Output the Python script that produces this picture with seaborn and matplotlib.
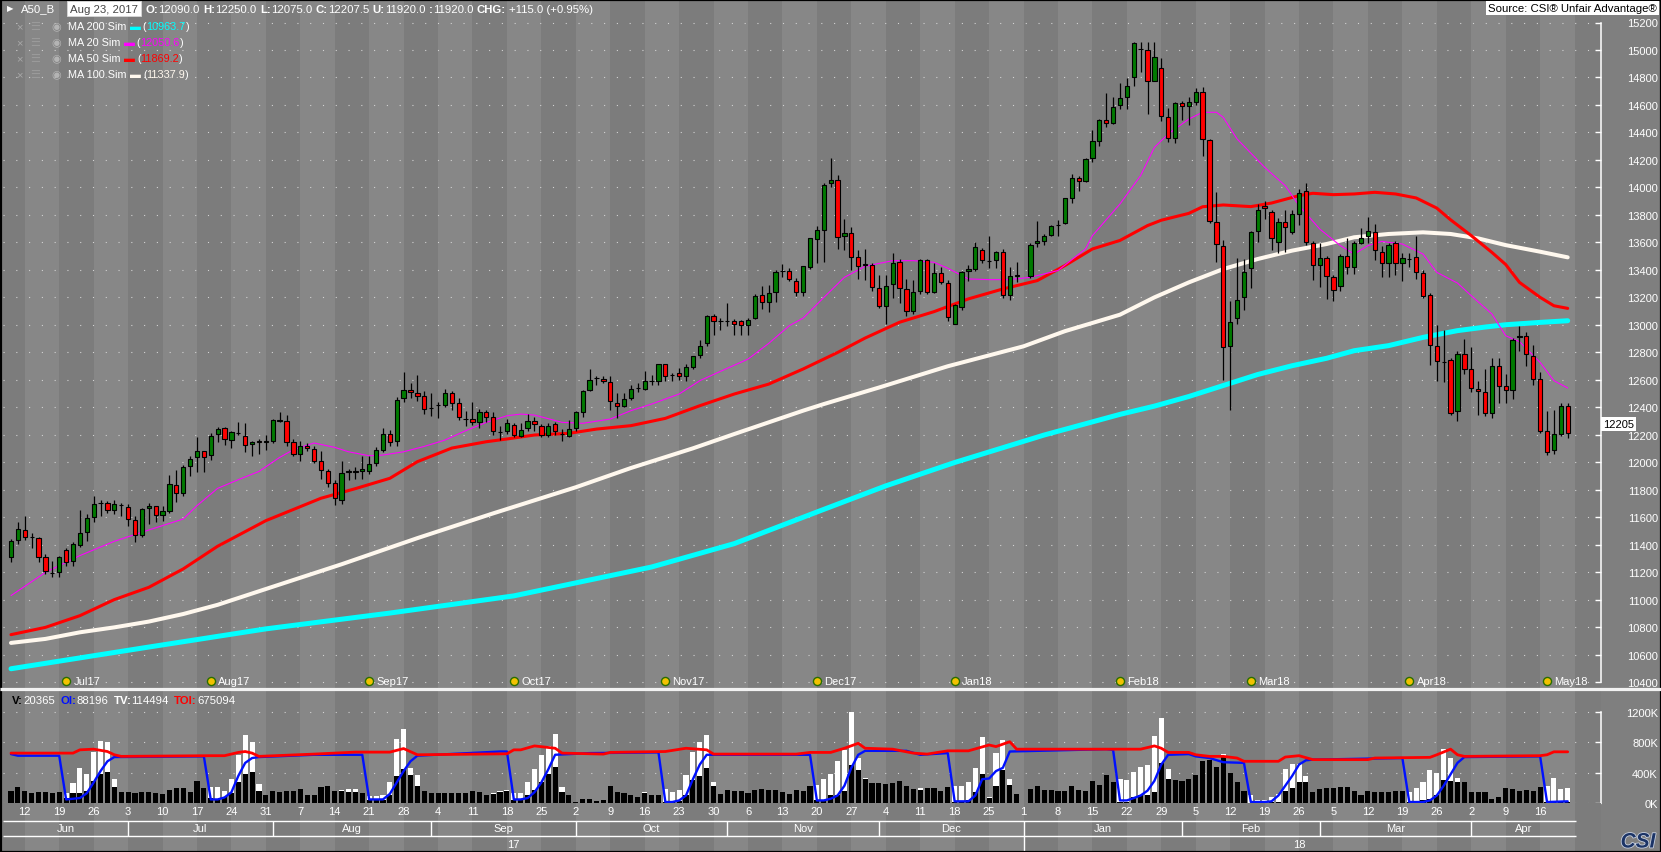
import numpy as np
import pandas as pd
import matplotlib
matplotlib.use("Agg")
import matplotlib.pyplot as plt
import matplotlib.patheffects as pe
from matplotlib.patches import Rectangle
import seaborn as sns

# ---- values; slot = weekday index (0 = Thu 8 Jun 2017) ----
opens = [11315, 11439, 11507, 11458, 11449, 11311, 11193, 11202, 11364, 11281,
         11403, 11492, 11601, 11709, 11706, 11657, 11692, 11674, 11584, 11475,
         11667, 11681, 11618, 11650, 11837, 11776, 11972, 12038, 12081, 12057,
         12205, 12249, 12164, 12212, 12195, 12132, 12154, 12152, 12158, 12304,
         12304, 12146, 12059, 12122, 12095, 12011, 11935, 11850, 11730, 11930,
         11936, 11936, 11936, 11994, 12093, 12207, 12154, 12466, 12527, 12505,
         12481, 12394, 12418, 12420, 12505, 12432, 12316, 12314, 12292, 12365,
         12328, 12222, 12231, 12273, 12190, 12248, 12299, 12263, 12202, 12280,
         12205, 12195, 12248, 12369, 12529, 12612, 12604, 12583, 12432, 12413,
         12471, 12543, 12534, 12590, 12595, 12714, 12635, 12648, 12631, 12697,
         12784, 12867, 13063, 13026, 13027, 13026, 13026, 13002, 13048, 13218,
         13165, 13237, 13393, 13395, 13322, 13237, 13419, 13625, 13694, 14031,
         14055, 13645, 13667, 13493, 13441, 13434, 13267, 13136, 13296, 13456,
         13260, 13105, 13250, 13473, 13238, 13376, 13304, 13010, 13129, 13391,
         13408, 13546, 13464, 13473, 13529, 13221, 13360, np.nan, 13359, 13597,
         13614, 13657, 13727, 13740, 13927, 14067, 14050, 14212, 14336, 14491,
         14467, 14600, 14656, 14802, 15007, 15000, 14777, 14870, 14510, 14357,
         14612, 14590, 14619, 14697, 14348, 13747, 13577, 12850, 13049, 13201,
         13412, 13686, 13868, 13824, 13606, 13747, 13679, 13807, 13972, 13594,
         13436, 13485, 13347, 13281, 13499, 13419, 13596, 13645, 13679, 13533,
         13448, 13594, 13448, 13480, 13492, 13376, 13221, 12845, 12730, 12743,
         12372, 12789, 12677, 12534, 12510, 12357, 12699, 12554, 12525, 12916,
         12917, 12772, 12605, 12226, 12091, 12210, 12408]
highs = [11444, 11570, 11609, 11487, 11456, 11335, 11286, 11323, 11376, 11420,
         11655, 11626, 11754, 11730, 11723, 11730, 11706, 11698, 11609, 11669,
         11706, 11686, 11681, 11909, 11946, 11982, 12050, 12183, 12086, 12212,
         12256, 12256, 12232, 12292, 12285, 12159, 12171, 12200, 12316, 12369,
         12345, 12171, 12158, 12142, 12117, 12083, 11953, 11870, 12013, 11953,
         11969, 12049, 12049, 12110, 12248, 12238, 12474, 12655, 12578, 12636,
         12522, 12505, 12442, 12534, 12522, 12466, 12377, 12442, 12389, 12384,
         12365, 12268, 12316, 12285, 12290, 12350, 12330, 12280, 12290, 12297,
         12241, 12311, 12374, 12524, 12679, 12631, 12631, 12626, 12505, 12505,
         12563, 12576, 12665, 12636, 12716, 12716, 12653, 12685, 12714, 12775,
         12891, 13070, 13080, 13048, 13157, 13041, 13036, 13048, 13223, 13283,
         13289, 13400, 13446, 13414, 13339, 13431, 13633, 13717, 14036, 14215,
         14090, 13771, 13713, 13545, 13553, 13450, 13360, 13360, 13524, 13480,
         13335, 13325, 13480, 13480, 13451, 13419, 13327, 13153, 13393, 13435,
         13601, 13558, 13645, 13541, 13553, 13422, 13458, np.nan, 13594, 13757,
         13660, 13725, 13766, 13925, 14095, 14085, 14215, 14421, 14496, 14690,
         14656, 14762, 14796, 15058, 15058, 15058, 15060, 14940, 14580, 14620,
         14630, 14660, 14722, 14731, 14350, 13965, 13620, 13171, 13485, 13480,
         13683, 13882, 13899, 13833, 13780, 13838, 13838, 13992, 14031, 13608,
         13596, 13504, 13364, 13519, 13634, 13611, 13702, 13787, 13733, 13575,
         13594, 13611, 13521, 13521, 13645, 13400, 13230, 13000, 12963, 12760,
         12808, 12896, 12843, 12595, 12680, 12760, 12760, 12640, 12903, 12995,
         12950, 12852, 12660, 12375, 12382, 12436, 12436]
lows = [11274, 11408, 11439, 11378, 11274, 11189, 11165, 11165, 11245, 11250,
        11383, 11432, 11570, 11609, 11631, 11626, 11614, 11541, 11424, 11461,
        11553, 11565, 11577, 11631, 11711, 11759, 11904, 11929, 11929, 12021,
        12147, 12127, 12106, 12200, 12079, 12045, 12062, 12093, 12139, 12292,
        12122, 12049, 12013, 12083, 11996, 11880, 11820, 11690, 11700, 11870,
        11880, 11880, 11916, 11977, 12074, 12122, 12122, 12442, 12469, 12449,
        12352, 12340, 12323, 12401, 12384, 12311, 12268, 12275, 12248, 12297,
        12200, 12161, 12207, 12183, 12183, 12226, 12226, 12187, 12183, 12200,
        12158, 12187, 12231, 12328, 12517, 12563, 12578, 12384, 12321, 12406,
        12457, 12510, 12529, 12563, 12563, 12595, 12595, 12600, 12595, 12682,
        12762, 12845, 12925, 12962, 12996, 12925, 12930, 12930, 13041, 13118,
        13092, 13167, 13351, 13317, 13211, 13208, 13407, 13451, 13456, 14000,
        13553, 13546, 13400, 13337, 13325, 13245, 13126, 13005, 13199, 13162,
        13068, 13082, 13223, 13228, 13233, 13296, 13032, 13005, 13109, 13320,
        13390, 13451, 13413, 13417, 13194, 13185, 13311, np.nan, 13340, 13570,
        13582, 13650, 13650, 13732, 13886, 13976, 14041, 14187, 14300, 14440,
        14460, 14571, 14569, 14741, 14843, 14538, 14777, 14480, 14330, 14327,
        14492, 14455, 14600, 14232, 13740, 13460, 12600, 12380, 13004, 13107,
        13269, 13607, 13774, 13545, 13524, 13533, 13664, 13724, 13581, 13324,
        13278, 13192, 13172, 13250, 13368, 13368, 13591, 13596, 13475, 13347,
        13347, 13366, 13322, 13424, 13337, 13196, 12708, 12595, 12586, 12348,
        12300, 12640, 12510, 12345, 12338, 12324, 12430, 12431, 12462, 12813,
        12699, 12566, 12212, 12055, 12060, 12190, 12175]
closes = [11427, 11514, 11456, 11455, 11315, 11209, 11194, 11311, 11274, 11408,
          11485, 11594, 11698, 11705, 11657, 11698, 11690, 11589, 11475, 11662,
          11681, 11618, 11645, 11841, 11778, 11965, 12026, 12086, 12038, 12195,
          12244, 12171, 12220, 12215, 12127, 12147, 12152, 12154, 12311, 12306,
          12146, 12059, 12117, 12108, 12013, 11945, 11850, 11740, 11921, 11936,
          11933, 11953, 11989, 12091, 12207, 12146, 12452, 12527, 12510, 12486,
          12389, 12396, 12421, 12505, 12432, 12328, 12317, 12292, 12365, 12328,
          12226, 12225, 12287, 12200, 12236, 12299, 12280, 12202, 12263, 12226,
          12207, 12243, 12365, 12517, 12600, 12614, 12590, 12445, 12413, 12462,
          12534, 12545, 12590, 12591, 12714, 12631, 12637, 12631, 12692, 12772,
          12849, 13063, 13026, 13027, 13026, 13007, 13002, 13038, 13213, 13165,
          13230, 13383, 13396, 13334, 13237, 13426, 13630, 13688, 14019, 14055,
          13638, 13667, 13493, 13427, 13439, 13274, 13136, 13284, 13449, 13267,
          13105, 13243, 13473, 13238, 13376, 13311, 13056, 13143, 13383, 13408,
          13565, 13473, 13462, 13529, 13221, 13359, 13358, np.nan, 13585, 13614,
          13650, 13718, 13728, 13922, 14067, 14050, 14208, 14336, 14491, 14469,
          14583, 14651, 14741, 15049, 15009, 14777, 14947, 14517, 14357, 14612,
          14595, 14619, 14697, 14353, 13759, 13589, 12838, 13020, 13182, 13388,
          13674, 13839, 13848, 13630, 13747, 13710, 13805, 13958, 13601, 13439,
          13485, 13354, 13257, 13499, 13419, 13594, 13630, 13681, 13545, 13448,
          13584, 13448, 13485, 13481, 13383, 13208, 12857, 12736, 12728, 12357,
          12789, 12677, 12539, 12517, 12357, 12699, 12559, 12530, 12893, 12917,
          12786, 12605, 12226, 12074, 12205, 12408, 12212]

# moving averages (slot, value)
ma20_slots = [0, 5, 10, 15, 20, 25, 27, 30, 33, 36, 39, 41, 44, 47, 49, 52, 54, 57, 60, 63,
              66, 69, 72, 74, 76, 80, 83, 87, 90, 93, 97, 100, 103, 107, 110, 113, 115, 118, 121, 124,
              128, 131, 134, 136, 139, 142, 145, 148, 152, 156, 157, 161, 164, 166, 168, 171, 173, 175, 176, 178,
              182, 185, 187, 190, 193, 195, 197, 199, 202, 205, 207, 210, 212, 215, 217, 219, 222, 224, 226]
ma20_vals = [11032, 11201, 11323, 11427, 11509, 11589, 11686, 11812, 11875, 11935,
             12037, 12093, 12142, 12110, 12078, 12049, 12054, 12078, 12117, 12163,
             12231, 12292, 12340, 12352, 12345, 12292, 12285, 12316, 12377, 12425,
             12498, 12595, 12663, 12752, 12866, 12995, 13050, 13200, 13347, 13427,
             13468, 13468, 13456, 13413, 13335, 13330, 13330, 13347, 13396, 13553,
             13650, 13880, 14087, 14292, 14389, 14498, 14547, 14547, 14510, 14353,
             14147, 14013, 13868, 13698, 13577, 13516, 13577, 13608, 13589, 13516,
             13383, 13305, 13213, 13080, 12922, 12879, 12728, 12595, 12542]
ma50_slots = [0, 5, 10, 15, 20, 25, 30, 37, 45, 50, 55, 59, 64, 69, 72, 76, 81, 85, 90, 95,
              100, 105, 110, 115, 120, 124, 129, 134, 139, 144, 149, 153, 157, 161, 165, 167, 171, 173, 176,
              180, 183, 187, 189, 192, 195, 198, 201, 204, 207, 209, 212, 215, 217, 219, 222, 224, 226]
ma50_vals = [10748, 10801, 10886, 11003, 11092, 11226, 11391, 11577, 11740, 11810,
             11885, 12006, 12105, 12151, 12171, 12200, 12212, 12243, 12268, 12321,
             12413, 12498, 12570, 12680, 12800, 12905, 13020, 13097, 13190,
             13262, 13323, 13432, 13553, 13615, 13723, 13762, 13812, 13860, 13873,
             13861, 13887, 13941, 13958, 13948, 13953, 13965, 13953, 13924, 13850,
             13765, 13650, 13528, 13440, 13310, 13201, 13140, 13121]
ma100_slots = [0, 5, 10, 15, 20, 25, 30, 37, 48, 59, 70, 82, 90, 99, 105, 110, 115, 118, 126, 136,
               147, 153, 161, 166, 171, 176, 181, 186, 191, 195, 200, 205, 209, 213, 217, 222, 226]
ma100_vals = [10688, 10717, 10765, 10801, 10843, 10898, 10965, 11080, 11260, 11450,
              11630, 11820, 11960, 12103, 12207, 12292, 12377, 12425, 12545, 12700,
              12845, 12955, 13075, 13201, 13310, 13407, 13480, 13541, 13589, 13638,
              13662, 13674, 13662, 13630, 13581, 13533, 13492]
ma200_slots = [0, 19, 37, 55, 73, 93, 105, 117, 127, 137, 150, 161, 166, 171, 176, 181, 186, 191, 195,
               200, 205, 210, 214, 217, 222, 226]
ma200_vals = [10500, 10650, 10790, 10905, 11030, 11240, 11410, 11640, 11830, 12000,
              12200, 12350, 12410, 12480, 12560, 12640, 12704, 12758, 12813,
              12850, 12910, 12959, 12985, 13002, 13019, 13031]

# volume panel (thousands of contracts)
volume = [155, 206, 159, 129, 146, 142, 129, 142, 65, 133,
          133, 163, 292, 378, 409, 211, 142, 142, 133, 142,
          142, 129, 120, 172, 194, 194, 142, 284, 198, 65,
          56, 77, 133, 271, 378, 413, 159, 112, 155, 146,
          155, 155, 185, 112, 112, 206, 228, 163, 163, 146,
          146, 133, 34, 34, 34, 99, 357, 443, 370, 228,
          163, 133, 129, 129, 129, 133, 133, 159, 142, 112,
          120, 142, 163, 34, 34, 99, 176, 271, 378, 473,
          142, 112, 13, 56, 56, 30, 43, 224, 142, 133,
          99, 77, 133, 99, 112, 13, 13, 22, 108, 305,
          357, 464, 228, 120, 172, 155, 155, 133, 172, 189,
          176, 176, 142, 120, 172, 159, 228, 34, 34, 99,
          99, 163, 507, 430, 323, 262, 258, 249, 262, 292,
          228, 185, 176, 194, 194, 155, 206, 13, 13, 34,
          142, 378, 65, 228, 430, 237, 120, np.nan, 185, 219,
          172, 172, 155, 155, 219, 172, 163, 292, 237, 366,
          280, 13, 13, 77, 99, 108, 151, 529, 314, 301,
          292, 323, 366, 559, 563, 473, 615, 391, 271, 163,
          5, 13, 13, 13, 13, 163, 198, 280, 280, 151,
          185, 198, 198, 215, 215, 155, 112, 163, 142, 142,
          142, 155, 155, 13, 13, 34, 56, 108, 301, 292,
          280, 280, 151, 151, 151, 56, 77, 198, 185, 163,
          176, 163, 215, 13, 13, 13, 13]
tv_slots = [8, 9, 10, 11, 12, 13, 14, 15, 29, 30, 31, 32, 33, 34, 35, 36, 48, 49, 50,
            52, 53, 54, 55, 56, 57, 58, 59, 70, 71, 72, 73, 74, 75, 76, 77, 78, 79, 80, 92,
            95, 96, 97, 98, 99, 100, 101, 102, 117, 118, 119, 120, 121, 122, 123, 124, 132,
            137, 138, 139, 140, 141, 142, 143, 144, 145, 161, 162, 163, 164, 165, 166, 167, 168,
            176, 177, 178, 180, 181, 182, 183, 184, 185, 186, 187, 188,
            203, 204, 205, 206, 207, 208, 209, 210, 217, 223, 224, 225, 226]
tv_vals = [133, 262, 456, 387, 679, 817, 808, 314, 215, 215, 163, 323, 636, 894, 808, 249, 176, 185, 185,
           86, 86, 99, 280, 843, 980, 464, 366, 133, 163, 176, 133, 133, 280, 452, 636, 753, 916, 206, 142,
           185, 151, 176, 366, 679, 808, 894, 271, 237, 314, 387, 559, 701, 1204, 593, 335, 194,
           228, 228, 271, 464, 873, 77, 658, 830, 314, 314, 301, 413, 477, 507, 882, 1118, 443,
           649, 400, 280, 99, 34, 34, 77, 120, 443, 520, 520, 357,
           142, 194, 280, 430, 400, 710, 593, 335, 202, 228, 327, 185, 198]
oi_slots = [0, 1, 7, 8, 10, 11, 12, 13, 14, 15, 28, 29, 30, 31, 32, 33, 34, 35, 36, 44, 51,
            52, 54, 55, 56, 57, 58, 59, 71, 72, 73, 74, 75, 76, 77, 78, 79, 84, 94,
            95, 96, 97, 98, 99, 100, 101, 116, 117, 118, 119, 120, 121, 122, 123, 124, 130, 132, 136,
            137, 139, 140, 141, 142, 143, 144, 145, 159, 160, 161, 162, 163, 164, 165, 166, 167, 168,
            171, 172, 174, 176, 179, 180, 182, 183, 184, 185, 186, 187, 188, 189, 202,
            203, 205, 206, 207, 208, 209, 210, 211, 222, 223, 226]
oi_vals = [645, 624, 624, 47, 65, 129, 271, 421, 550, 606, 615, 47, 47, 73, 142, 357, 529, 593, 606, 636, 636,
           47, 47, 120, 271, 421, 550, 624, 679, 679, 47, 47, 65, 142, 271, 443, 636, 658, 667,
           13, 13, 34, 99, 314, 507, 636, 636, 34, 34, 56, 99, 228, 464, 636, 688, 688, 636, 658,
           22, 22, 99, 314, 323, 421, 464, 679, 710, 701, 34, 34, 65, 99, 163, 292, 507, 636,
           645, 615, 593, 538, 529, 13, 13, 22, 99, 228, 357, 507, 563, 572, 593,
           13, 13, 34, 99, 228, 378, 529, 606, 615, 13, 22]
toi_slots = [0, 7, 9, 10, 12, 14, 15, 16, 29, 31, 33, 34, 35, 36, 44, 50, 55, 57, 59,
             72, 73, 74, 76, 79, 80, 86, 87, 95, 98, 101, 102, 114, 116, 119, 121, 123, 124, 128,
             131, 133, 136, 139, 142, 143, 145, 146, 160, 164, 166, 167, 168, 171, 172, 174, 176, 178, 179,
             184, 185, 187, 189, 197, 198, 206, 207, 209, 210, 211, 222, 223, 224, 226]
toi_vals = [658, 658, 658, 701, 710, 679, 636, 615, 624, 624, 667, 679, 658, 615, 645, 671, 671, 718, 636,
            649, 701, 701, 753, 722, 658, 645, 667, 679, 722, 701, 645, 645, 667, 667, 722, 787, 722, 710,
            658, 645, 688, 688, 765, 744, 808, 710, 710, 710, 753, 722, 667, 667, 636, 615, 615, 593, 550,
            550, 606, 624, 572, 572, 593, 602, 636, 710, 636, 615, 624, 636, 675, 675]

# contract roll markers
roll_slots = [8, 29, 52, 73, 95, 117, 137, 161, 180, 203, 223]
roll_labels = ["Jul17", "Aug17", "Sep17", "Oct17", "Nov17", "Dec17",
               "Jan18", "Feb18", "Mar18", "Apr18", "May18"]

# time axis labels
day_labels = ["12", "19", "26", "3", "10", "17", "24", "31", "7", "14", "21", "28",
              "4", "11", "18", "25", "2", "9", "16", "23", "30", "6", "13", "20", "27",
              "4", "11", "18", "25", "1", "8", "15", "22", "29", "5", "12", "19", "26",
              "5", "12", "19", "26", "2", "9", "16"]
month_labels = ["Jun", "Jul", "Aug", "Sep", "Oct", "Nov", "Dec", "Jan", "Feb", "Mar", "Apr"]
month_breaks = [17, 38, 61, 82, 104, 126, 147, 170, 190, 212]
year_labels = ["17", "18"]
year_breaks = [147]

price_ticks = list(range(10400, 15201, 200))
vol_ticks = [0, 400, 800, 1200]
vol_tick_labels = ["0K", "400K", "800K", "1200K"]

legend_rows = [("MA 200 Sim", "#00ffff", "10963.7"),
               ("MA 20 Sim", "#ff00ff", "12050.6"),
               ("MA 50 Sim", "#ff0000", "11869.2"),
               ("MA 100 Sim", "#fff8ee", "11337.9")]

# ---- layout (pixel geometry of the original screen grab) ----
W, H = 1661, 853
X0, DX = 11.0, 6.888
BAND_LIGHT, BAND_DARK = "#878787", "#7c7c7c"
DOT = "#d2d2d2"
GREEN, RED = "#007a00", "#ff0000"


def fx(px):
    return px / W


def fh(py):
    return py / H


def price_at(py):
    return 15200 - (py - 23.5) * 200 / 27.5


XLIM = ((3 - X0) / DX, (1601 - X0) / DX)
DATE_END = (1576 - X0) / DX
VPX = 30.33 / 400  # px per thousand contracts

sns.set_theme(style="dark")
plt.rcParams['font.family'] = ['Liberation Sans', 'DejaVu Sans']
plt.rcParams['axes.unicode_minus'] = False

fig = plt.figure(figsize=(W / 100, H / 100), dpi=100, facecolor="#7f7f7f")

ax_p = fig.add_axes([fx(3), 1 - fh(690), fx(1598), fh(688)])
ax_v = fig.add_axes([fx(3), 1 - fh(804), fx(1598), fh(804 - 692)])
ax_d = fig.add_axes([fx(3), 1 - fh(852), fx(1598), fh(852 - 804)])

ax_p.set_ylim(price_at(690), price_at(2))
ax_v.set_ylim(0, (804 - 692) / VPX)
ax_d.set_ylim(852, 804)

for a in (ax_p, ax_v, ax_d):
    a.set_xlim(*XLIM)
    a.set_facecolor(BAND_DARK)
    a.grid(False)
    for k in range(-1, 47):
        start = 2 + 5 * k
        a.axvspan(start, start + 5, color=BAND_LIGHT if k % 2 == 0 else BAND_DARK,
                  lw=0, zorder=0)
    for s in a.spines.values():
        s.set_visible(False)
    a.set_xticks([])

# ---- price panel ----
for lvl in price_ticks:
    ax_p.axhline(lvl, color=DOT, lw=0.8, ls=(0, (1, 10.5)), zorder=1)

ma_specs = [(ma200_slots, ma200_vals, "#00ffff", 3.6),
            (ma100_slots, ma100_vals, "#fff8ee", 2.9),
            (ma50_slots, ma50_vals, "#ff0000", 2.2),
            (ma20_slots, ma20_vals, "#ff00ff", 0.8)]
for sl, vals, col, lw in ma_specs:
    ma = pd.DataFrame({"slot": sl, "value": vals})
    sns.lineplot(data=ma, x="slot", y="value", ax=ax_p, color=col,
                 linewidth=lw, legend=False, zorder=3)

bars = pd.DataFrame({"slot": np.arange(len(opens)), "open": opens, "high": highs,
                     "low": lows, "close": closes}).dropna()
up = bars["close"] >= bars["open"]
ax_p.vlines(bars["slot"], bars["low"], bars["high"], color="black", lw=0.9, zorder=4)
ax_p.bar(bars["slot"], (bars["close"] - bars["open"]).abs(),
         bottom=bars[["open", "close"]].min(axis=1), width=0.62,
         color=np.where(up, GREEN, RED), edgecolor="black", linewidth=0.8, zorder=5)

mark_y = price_at(682)
sns.scatterplot(x=roll_slots, y=[mark_y] * len(roll_slots), ax=ax_p, s=34,
                color="#f2c200", edgecolor="#2a6e00", linewidth=1, zorder=8, legend=False)
for s, lab in zip(roll_slots, roll_labels):
    ax_p.annotate(lab, (s, mark_y), xytext=(5.2, 0), textcoords="offset points",
                  va="center", ha="left", color="white", fontsize=8, zorder=8)

ax_p.set_xlabel("")
ax_p.set_ylabel("")
ax_p.yaxis.tick_right()
ax_p.set_yticks(price_ticks)
ax_p.set_yticklabels([str(t) for t in price_ticks])
ax_p.tick_params(axis="y", which="major", direction="in", length=4, width=1,
                 colors="white", labelsize=8, pad=41, right=True, labelright=True,
                 left=False, labelleft=False)
for lab in ax_p.get_yticklabels():
    lab.set_horizontalalignment("right")
ax_p.spines["right"].set_visible(True)
ax_p.spines["right"].set_color("white")
ax_p.spines["right"].set_linewidth(1.1)
ax_p.spines["right"].set_bounds(10400, 15200)

ax_p.text(1.0 + 2 / 1598, 12280, "12205", transform=ax_p.get_yaxis_transform(),
          ha="left", va="center", fontsize=8, color="black", zorder=10, clip_on=False,
          bbox=dict(boxstyle="square,pad=0.2", fc="white", ec="none"))

# ---- volume panel ----
for lvl in vol_ticks:
    ax_v.axhline(lvl, color=DOT, lw=0.8, ls=(0, (1, 10.5)), zorder=1)
ax_v.bar(tv_slots, tv_vals, width=0.74, color="white", lw=0, zorder=2)
ax_v.bar(np.arange(len(volume)), volume, width=0.74, color="black", lw=0, zorder=3)
sns.lineplot(x=oi_slots, y=oi_vals, ax=ax_v, color="#0010ff", linewidth=1.7,
             legend=False, zorder=4)
sns.lineplot(x=toi_slots, y=toi_vals, ax=ax_v, color="#ff0000", linewidth=2.0,
             legend=False, zorder=5)
ax_v.set_xlabel("")
ax_v.set_ylabel("")
ax_v.yaxis.tick_right()
ax_v.set_yticks(vol_ticks)
ax_v.set_yticklabels(vol_tick_labels)
ax_v.tick_params(axis="y", which="major", direction="in", length=4, width=1,
                 colors="white", labelsize=8, pad=41, right=True, labelright=True,
                 left=False, labelleft=False)
for lab in ax_v.get_yticklabels():
    lab.set_horizontalalignment("right")
ax_v.spines["right"].set_visible(True)
ax_v.spines["right"].set_color("white")
ax_v.spines["right"].set_linewidth(1.1)
ax_v.spines["right"].set_bounds(0, 1200)
ax_v.set_xlim(*XLIM)

# ---- time axis ----
ax_d.set_yticks([])
for k, lab in enumerate(day_labels):
    ax_d.text(2 + 5 * k, 812.5, lab, ha="center", va="center", color="white", fontsize=8)
ax_d.hlines([821.5, 837], XLIM[0], DATE_END, color="white", lw=1)
ax_d.vlines(month_breaks, 821.5, 837, color="white", lw=1)
ax_d.vlines(year_breaks, 837, 852, color="white", lw=1)
edges = [XLIM[0]] + month_breaks + [DATE_END]
for lab, a, b in zip(month_labels, edges[:-1], edges[1:]):
    ax_d.text((a + b) / 2, 829.5, lab, ha="center", va="center", color="white", fontsize=8)
yedges = [XLIM[0]] + year_breaks + [DATE_END]
for lab, a, b in zip(year_labels, yedges[:-1], yedges[1:]):
    ax_d.text((a + b) / 2, 845, lab, ha="center", va="center", color="white", fontsize=8)

# ---- overlay: header, legends, frame ----
ax_o = fig.add_axes([0, 0, 1, 1], zorder=20)
ax_o.set_xlim(0, W)
ax_o.set_ylim(H, 0)
ax_o.axis("off")
ax_o.patch.set_alpha(0)


def chain(x, y, pieces, size):
    prev = None
    for txt, col, wt, gap in pieces:
        kw = dict(color=col, fontweight=wt, fontsize=size, va="center", ha="left")
        if prev is None:
            prev = ax_o.text(x, y, txt, **kw)
        else:
            prev = ax_o.annotate(txt, xy=(1, 0.5), xycoords=prev, xytext=(gap, 0),
                                 textcoords="offset points", **kw)
    return prev


ax_o.text(10, 9.5, "▶", color="white", fontsize=6, ha="center", va="center")
ax_o.text(21, 9.5, "A50_B", color="white", fontsize=8.2, ha="left", va="center")
ax_o.text(70, 9.5, "Aug 23, 2017", color="#454545", fontsize=8.2, ha="left", va="center",
          bbox=dict(boxstyle="square,pad=0.25", fc="white", ec="#d8d8d8", lw=0.6))
head = [("O:", "white", "bold", 0), ("12090.0", "white", "normal", 0),
        ("H:", "white", "bold", 2.6), ("12250.0", "white", "normal", 0),
        ("L:", "white", "bold", 2.6), ("12075.0", "white", "normal", 0),
        ("C:", "white", "bold", 2.6), ("12207.5", "white", "normal", 0),
        ("U:", "white", "bold", 2.6), ("11920.0", "white", "normal", 0),
        (":", "white", "bold", 2.6), ("11920.0", "white", "normal", 0),
        ("CHG:", "white", "bold", 2.6), ("+115.0 (+0.95%)", "white", "normal", 2.0)]
chain(145.5, 9.5, head, 8.2)
ax_o.text(1657, 9, "Source: CSI® Unfair Advantage®", color="black", fontsize=8.2,
          ha="right", va="center", bbox=dict(boxstyle="square,pad=0.2", fc="white", ec="none"))

for row, (name, col, val) in enumerate(legend_rows):
    y = 27 + 16 * row
    ax_o.text(19, y, "×", color="#a8a8a8", fontsize=8, ha="center", va="center")
    ax_o.text(35, y, "☰", color="#9a9a9a", fontsize=8, ha="center", va="center")
    ax_o.text(56, y, "◉", color="#b4b4b4", fontsize=8, ha="center", va="center")
    chain(68, y, [(name, "white", "normal", 0), ("▬", col, "normal", 2.5),
                  ("(", "white", "normal", 1.5), (val, col, "normal", 0),
                  (")", "white", "normal", 0)], 7.8)

vol_head = [("V:", "black", "bold", 0), ("20365", "white", "normal", 0),
            ("OI:", "#0010ff", "bold", 4), ("88196", "white", "normal", 0),
            ("TV:", "white", "bold", 4), ("114494", "white", "normal", 0),
            ("TOI:", "#ff0000", "bold", 4), ("675094", "white", "normal", 0)]
chain(12, 701, vol_head, 8.2)

ax_o.hlines(690, 0, W, color="#f2f2f2", lw=2.3)
ax_o.text(1638, 843, "CSI", color="#1c3466", fontsize=15, fontweight="bold", style="italic",
          ha="center", va="center",
          path_effects=[pe.withStroke(linewidth=1.2, foreground="#c8d0e0")])
ax_o.add_patch(Rectangle((0.5, 0.5), W - 1, H - 1, fill=False, ec="black", lw=1.6))

fig.savefig("out.png", dpi=100, facecolor=fig.get_facecolor())
